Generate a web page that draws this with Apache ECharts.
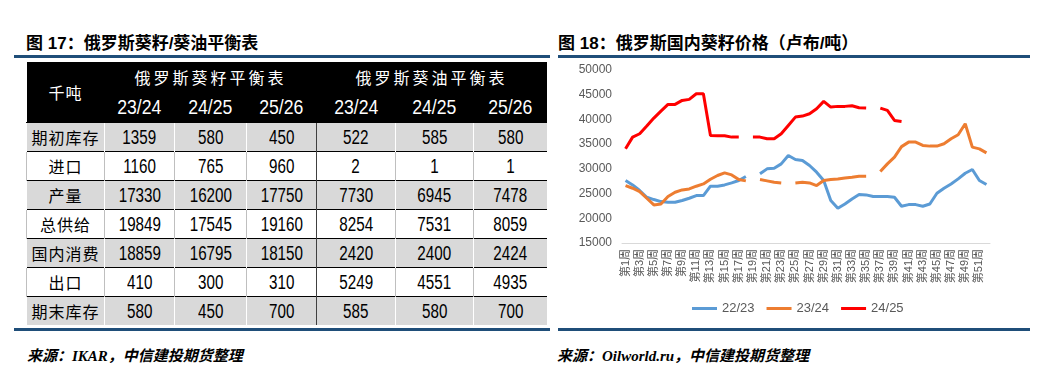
<!DOCTYPE html>
<html>
<head>
<meta charset="utf-8">
<script src="https://cdn.jsdelivr.net/npm/echarts@6.0.0/dist/echarts.min.js"></script>
<style>
body{margin:0;background:#fff;}
#page{position:relative;width:1060px;height:377px;overflow:hidden;background:#fff;}
.title{position:absolute;top:29px;font:bold 17px "Liberation Sans","Noto Sans CJK SC";color:#000;white-space:nowrap;}
.bar{position:absolute;height:3px;background:#1f4e79;}
.src{position:absolute;top:344px;font:italic bold 15px "Liberation Serif","Noto Sans CJK SC";color:#000;white-space:nowrap;}
#tb{position:absolute;left:26px;top:62px;width:520px;border-collapse:collapse;table-layout:fixed;}
#tb td{padding:0;text-align:center;height:28px;border-top:1px solid #000;font:20px "Liberation Sans",sans-serif;color:#000;}
#tb td span.n{display:inline-block;transform:scaleX(0.76);}
#tb tr.g td{background:#d9d9d9;border-left:1px solid #fff;}
#tb tr.w td{background:#fff;border-left:1px solid #bfbfbf;}
#tb td.lab{font:16px "Noto Sans CJK SC";letter-spacing:1px;border-left:none;}
#tb td.mid{border-left:1px solid #404040 !important;}
#tb tr.h td{background:#000;color:#fff;border:none;height:30px;}
#tb tr.h td.cn{font:16px "Noto Sans CJK SC";letter-spacing:3px;}
#tb tr.h td.yr{font:21px "Liberation Sans",sans-serif;}
#tb tr.h td.yr span.n{transform:scaleX(0.84);}
#main{position:absolute;left:560px;top:58px;width:490px;height:270px;}
</style>
</head>
<body>
<div id="page">
	<div class="title" style="left:26px;">图 17：俄罗斯葵籽/葵油平衡表</div>
	<div class="title" style="left:558px;">图 18：俄罗斯国内葵籽价格（卢布/吨）</div>
	<div class="bar" style="left:14px;width:536px;top:55px;"></div>
	<div class="bar" style="left:558px;width:472px;top:55px;"></div>
	<div class="bar" style="left:14px;width:536px;top:328px;"></div>
	<div class="bar" style="left:558px;width:472px;top:328px;"></div>
	<table id="tb"></table>
	<div id="main"></div>
	<div class="src" style="left:27px;">来源：IKAR，中信建投期货整理</div>
	<div class="src" style="left:557px;">来源：Oilworld.ru，中信建投期货整理</div>
</div>
<script>
// 平衡表数据（千吨）
var unitName = '千吨';
var seedTitle = '俄罗斯葵籽平衡表';
var oilTitle = '俄罗斯葵油平衡表';
var years = ['23/24','24/25','25/26'];
var rowNames = ['期初库存','进口','产量','总供给','国内消费','出口','期末库存'];
var seedData = [[1359,580,450],[1160,765,960],[17330,16200,17750],[19849,17545,19160],[18859,16795,18150],[410,300,310],[580,450,700]];
var oilData = [[522,585,580],[2,1,1],[7730,6945,7478],[8254,7531,8059],[2420,2400,2424],[5249,4551,4935],[585,580,700]];
var colWidths = [78,70,72,70,79,78,73];

// 葵籽价格（卢布/吨），缺失周为 null
var seasons = ['22/23','23/24','24/25'];
var price2223 = [27640,26750,25620,24260,23790,23380,23240,23240,23590,24050,24590,24590,26490,26490,26750,27160,27640,28450,null,28990,30000,30140,31010,32700,31900,31690,30680,29330,27640,23590,22030,22900,23910,24800,24730,24400,24400,24400,24260,22430,22770,22770,22430,22900,25070,26080,26950,27970,29120,29870,27640,26830];
var price2324 = [26620,26080,25410,24050,22700,22900,24400,25270,25740,25940,26490,26950,27900,28650,29180,28780,27840,27570,null,27840,27570,27300,27160,null,27160,27300,27160,26620,27640,27840,27970,28170,28310,28510,28510,null,29470,31010,32370,34500,35410,35410,34730,34600,34600,35070,36080,36900,39120,34390,34050,33240];
var price2425 = [34050,36420,37100,38650,40270,41690,43040,43040,43850,44060,45200,45200,36760,36700,36700,36420,36420,null,36420,36420,36080,36080,37100,38790,40470,40680,41150,42160,43650,42500,42640,42640,42770,42360,42300,null,42300,41830,39800,39600,null,null,null,null,null,null,null,null,null,null,null,null];
var weekCount = 52;

function num(v){
	return '<span class="n">'+v+'</span>';
}

function buildTable(){
	var html = '<colgroup>';
	for (var c in colWidths) {
		html += '<col style="width:'+colWidths[c]+'px">';
	}
	html += '</colgroup>';
	html += '<tr class="h"><td rowspan="2" class="cn" style="letter-spacing:1px">'+unitName+'</td>'
		+'<td colspan="3" class="cn">'+seedTitle+'</td><td colspan="3" class="cn">'+oilTitle+'</td></tr>';
	html += '<tr class="h">';
	for (var k = 0; k < 2; k++) {
		for (var y in years) {
			html += '<td class="yr">'+num(years[y])+'</td>';
		}
	}
	html += '</tr>';
	for (var i = 0; i < rowNames.length; i++) {
		var cls = (i % 2 == 0) ? 'g' : 'w';
		html += '<tr class="'+cls+'"><td class="lab">'+rowNames[i]+'</td>';
		for (var j = 0; j < 3; j++) {
			html += '<td>'+num(seedData[i][j])+'</td>';
		}
		for (var j = 0; j < 3; j++) {
			html += '<td'+(j == 0 ? ' class="mid"' : '')+'>'+num(oilData[i][j])+'</td>';
		}
		html += '</tr>';
	}
	document.getElementById('tb').innerHTML = html;
}

buildTable();

var weeks = [];
for (var w = 1; w <= weekCount; w++) {
	weeks.push('第'+w+'周');
}

var myChart = echarts.init(document.getElementById('main'));
var fontName = '"Liberation Sans","Noto Sans CJK SC"';

function lineSeries(name, data, color){
	return {
		name: name,
		type: 'line',
		data: data,
		symbol: 'none',
		connectNulls: false,
		lineStyle: {width: 3, color: color},
		itemStyle: {color: color}
	};
}

var option = {
	animation: false,
	textStyle: {fontFamily: fontName},
	grid: {left: 62, top: 12, width: 368, height: 173},
	legend: {
		left: 127,
		top: 239,
		icon: 'rect',
		itemWidth: 25,
		itemHeight: 3,
		itemGap: 12,
		textStyle: {color: '#595959', fontSize: 13, fontFamily: fontName},
		data: seasons
	},
	xAxis: {
		type: 'category',
		data: weeks,
		boundaryGap: true,
		axisLine: {lineStyle: {color: '#d9d9d9', width: 1}},
		axisTick: {show: false},
		axisLabel: {rotate: 90, interval: 1, fontSize: 11, color: '#595959', margin: 6, fontFamily: fontName}
	},
	yAxis: {
		type: 'value',
		min: 15000,
		max: 50000,
		interval: 5000,
		axisLine: {show: false},
		axisTick: {show: false},
		splitLine: {show: false},
		axisLabel: {
			fontSize: 12, color: '#595959', margin: 10, fontFamily: fontName,
			formatter: function(v){ return String(v); }
		}
	},
	series: [
		lineSeries(seasons[0], price2223, '#5b9bd5'),
		lineSeries(seasons[1], price2324, '#ed7d31'),
		lineSeries(seasons[2], price2425, '#ff0000')
	]
};
myChart.setOption(option);
</script>
</body>
</html>
